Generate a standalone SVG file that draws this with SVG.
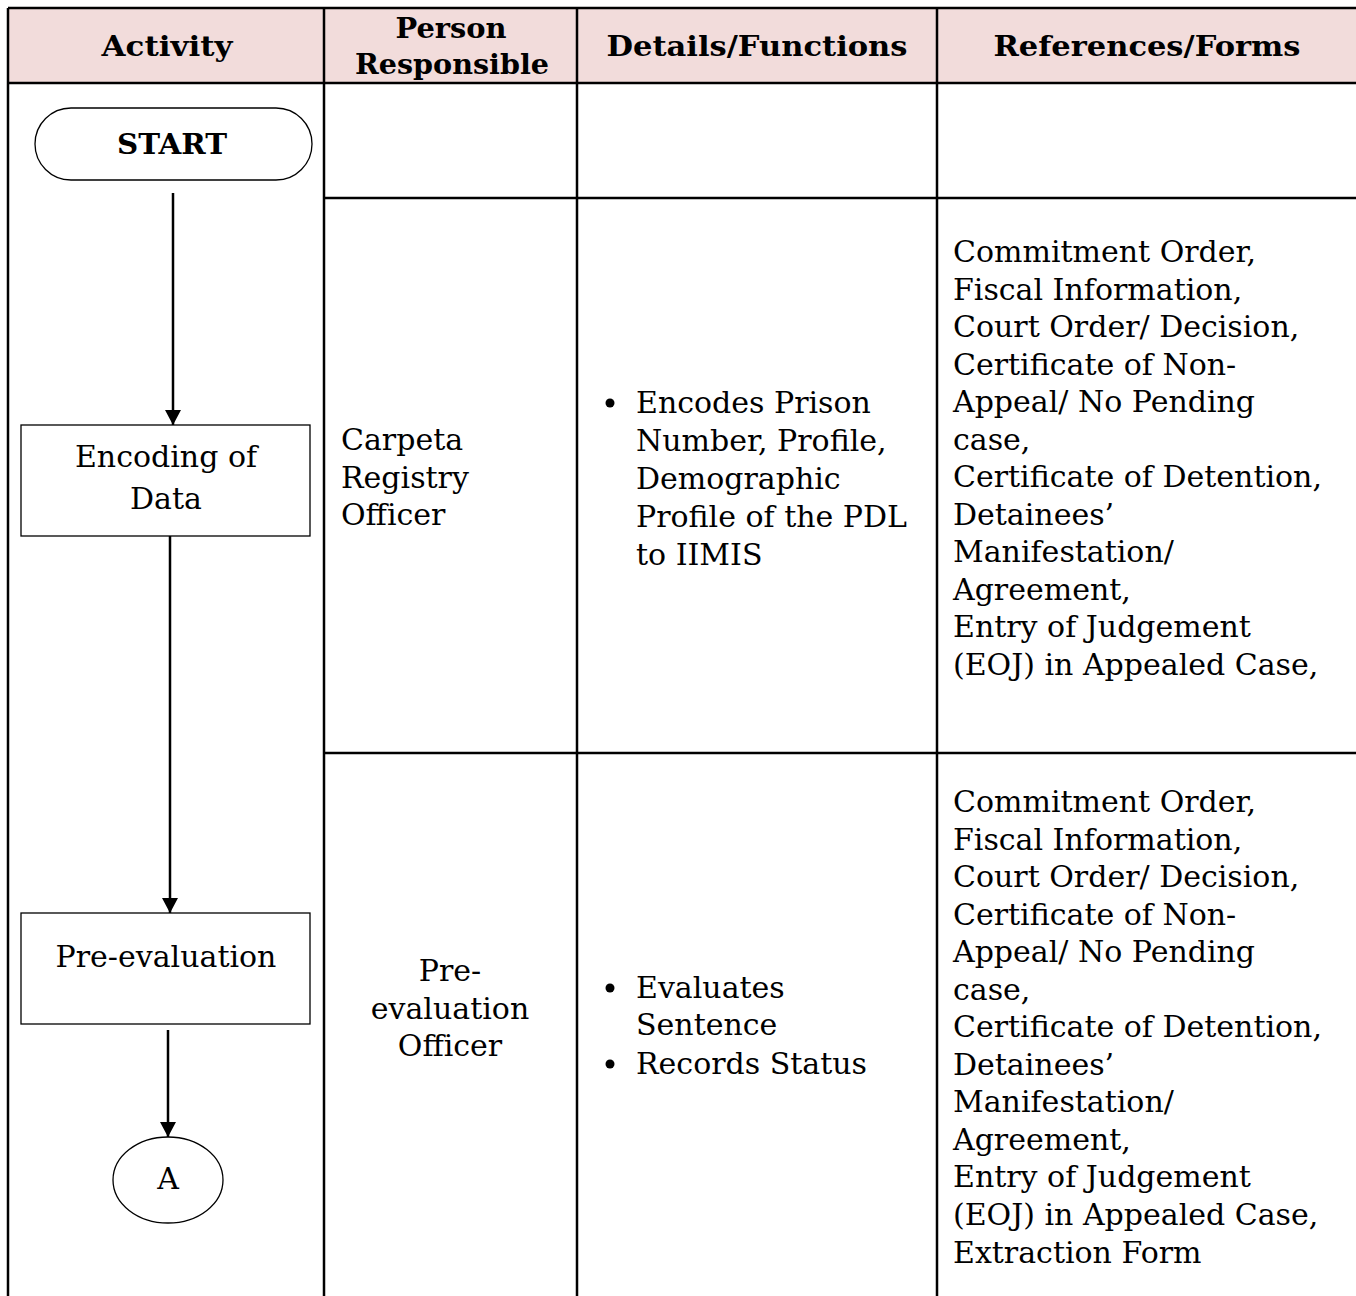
<svg xmlns="http://www.w3.org/2000/svg" width="1356" height="1296" viewBox="0 0 1356 1296">
<style>
.hdr{font-family:"DejaVu Serif","Liberation Serif",serif;font-weight:bold;font-size:28px;fill:#000;text-anchor:middle}
.t{font-family:"DejaVu Serif","Liberation Serif",serif;font-size:30px;fill:#000}
.c{text-anchor:middle}
.grid{stroke:#000;stroke-width:2.5;fill:none}
.shape{stroke:#000;stroke-width:1.3;fill:#fff}
.conn{stroke:#000;stroke-width:2.5;fill:none}
</style>
<defs>
<marker id="ah" markerWidth="16" markerHeight="16" refX="15" refY="8" orient="auto" markerUnits="userSpaceOnUse" viewBox="0 0 16 16">
<path d="M0,0 L15,8 L0,16 z" fill="#000"/>
</marker>
</defs>
<rect width="1356" height="1296" fill="#fff"/>
<g id="table">
<rect x="8" y="8" width="1360" height="75" fill="#F2DCDB"/>
<path class="grid" d="M8,8 H1356 M8,83 H1356 M324,198 H1356 M324,753 H1356 M8,8 V1296 M324,8 V1296 M577,8 V1296 M937,8 V1296"/>
<text class="hdr" x="167" y="56" textLength="131" lengthAdjust="spacingAndGlyphs">Activity</text>
<text class="hdr" x="451" y="38" textLength="111" lengthAdjust="spacingAndGlyphs">Person</text>
<text class="hdr" x="452" y="74" textLength="194" lengthAdjust="spacingAndGlyphs">Responsible</text>
<text class="hdr" x="757" y="56" textLength="301" lengthAdjust="spacingAndGlyphs">Details/Functions</text>
<text class="hdr" x="1147" y="56" textLength="307" lengthAdjust="spacingAndGlyphs">References/Forms</text>
</g>
<g id="start">
<rect class="shape" x="35" y="108" width="277" height="72" rx="36" ry="36"/>
<text class="hdr" x="172" y="154" textLength="110" lengthAdjust="spacingAndGlyphs">START</text>
</g>
<g id="encoding">
<rect class="shape" x="21" y="425" width="289" height="111"/>
<text class="t c" x="166" y="467">Encoding of</text>
<text class="t c" x="166" y="509">Data</text>
</g>
<g id="preeval">
<rect class="shape" x="21" y="913" width="289" height="111"/>
<text class="t c" x="166" y="967">Pre-evaluation</text>
</g>
<g id="connectorA">
<ellipse class="shape" cx="168" cy="1180" rx="55" ry="43"/>
<text class="t c" x="168" y="1189">A</text>
</g>
<g id="connectors">
<line class="conn" x1="173" y1="193" x2="173" y2="425" marker-end="url(#ah)"/>
<line class="conn" x1="170" y1="536" x2="170" y2="913" marker-end="url(#ah)"/>
<line class="conn" x1="168" y1="1030" x2="168" y2="1137" marker-end="url(#ah)"/>
</g>
<g id="row1">
<text class="t" x="341" y="450">Carpeta</text>
<text class="t" x="341" y="488">Registry</text>
<text class="t" x="341" y="525">Officer</text>
<circle cx="610" cy="403" r="4.5"/>
<text class="t" x="636" y="413">Encodes Prison</text>
<text class="t" x="636" y="451">Number, Profile,</text>
<text class="t" x="636" y="489">Demographic</text>
<text class="t" x="636" y="527">Profile of the PDL</text>
<text class="t" x="636" y="565">to IIMIS</text>
<text class="t" x="953" y="262">Commitment Order,</text>
<text class="t" x="953" y="300">Fiscal Information,</text>
<text class="t" x="953" y="337">Court Order/ Decision,</text>
<text class="t" x="953" y="375">Certificate of Non-</text>
<text class="t" x="953" y="412">Appeal/ No Pending</text>
<text class="t" x="953" y="450">case,</text>
<text class="t" x="953" y="487">Certificate of Detention,</text>
<text class="t" x="953" y="525">Detainees’</text>
<text class="t" x="953" y="562">Manifestation/</text>
<text class="t" x="953" y="600">Agreement,</text>
<text class="t" x="953" y="637">Entry of Judgement</text>
<text class="t" x="953" y="675">(EOJ) in Appealed Case,</text>
</g>
<g id="row2">
<text class="t c" x="450" y="981">Pre-</text>
<text class="t c" x="450" y="1019">evaluation</text>
<text class="t c" x="450" y="1056">Officer</text>
<circle cx="610" cy="988" r="4.5"/>
<text class="t" x="636" y="998">Evaluates</text>
<text class="t" x="636" y="1035">Sentence</text>
<circle cx="610" cy="1064" r="4.5"/>
<text class="t" x="636" y="1074">Records Status</text>
<text class="t" x="953" y="812">Commitment Order,</text>
<text class="t" x="953" y="850">Fiscal Information,</text>
<text class="t" x="953" y="887">Court Order/ Decision,</text>
<text class="t" x="953" y="925">Certificate of Non-</text>
<text class="t" x="953" y="962">Appeal/ No Pending</text>
<text class="t" x="953" y="1000">case,</text>
<text class="t" x="953" y="1037">Certificate of Detention,</text>
<text class="t" x="953" y="1075">Detainees’</text>
<text class="t" x="953" y="1112">Manifestation/</text>
<text class="t" x="953" y="1150">Agreement,</text>
<text class="t" x="953" y="1187">Entry of Judgement</text>
<text class="t" x="953" y="1225">(EOJ) in Appealed Case,</text>
<text class="t" x="953" y="1263">Extraction Form</text>
</g>
</svg>
